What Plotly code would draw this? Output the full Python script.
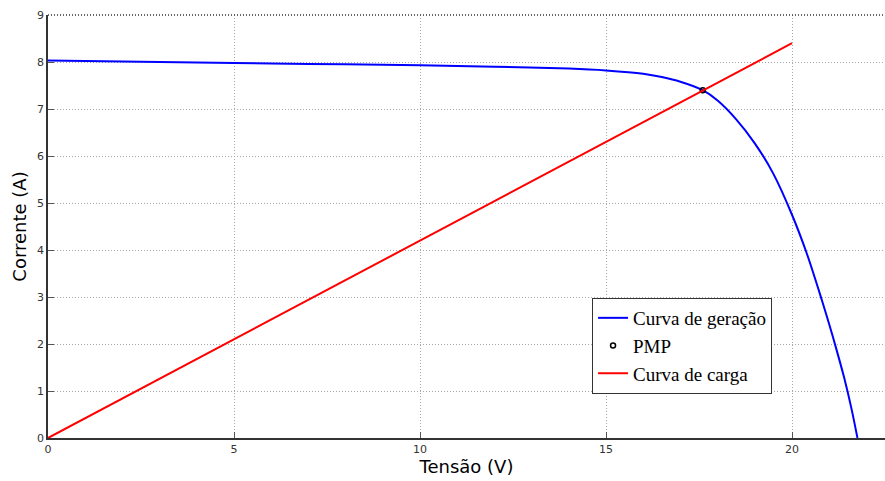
import plotly.graph_objects as go

# Generation (I-V) curve
v_ger = [0, 2, 4, 6, 8, 10, 12, 14, 15, 16, 16.5, 17, 17.6, 18, 18.5, 19, 19.5, 20, 20.4, 20.8, 21.0, 21.2, 21.4, 21.6, 21.76]
i_ger = [8.03, 8.01, 7.99, 7.97, 7.95, 7.93, 7.90, 7.86, 7.82, 7.75, 7.68, 7.58, 7.40, 7.18, 6.78, 6.27, 5.62, 4.75, 3.92, 2.94, 2.42, 1.87, 1.29, 0.62, 0.0]

# Load curve
v_carga = [0, 20]
i_carga = [0, 8.4]

# Maximum power point
v_pmp = [17.6]
i_pmp = [7.4]

x_ticks = [0, 5, 10, 15, 20]
y_ticks = [0, 1, 2, 3, 4, 5, 6, 7, 8, 9]

fig = go.Figure()
fig.add_trace(go.Scatter(x=v_ger, y=i_ger, mode="lines", name="Curva de geração",
                         line=dict(color="#0000ff", width=2, shape="spline", smoothing=0.8)))
fig.add_trace(go.Scatter(x=v_pmp, y=i_pmp, mode="markers", name="PMP",
                         marker=dict(symbol="circle-open", color="black", size=5, line=dict(width=1.5))))
fig.add_trace(go.Scatter(x=v_carga, y=i_carga, mode="lines", name="Curva de carga",
                         line=dict(color="#ff0000", width=2)))

axis_common = dict(
    showgrid=True, gridcolor="#a8a8a8", griddash="1px,2px", gridwidth=1,
    ticks="inside", ticklen=6, tickcolor="#555555",
    tickfont=dict(family="DejaVu Sans", size=11, color="#333333"),
    showline=True, linecolor="#333333", linewidth=1.5,
    zeroline=False,
)

fig.update_layout(
    width=885, height=481,
    margin=dict(l=48, r=0, t=15, b=43),
    paper_bgcolor="white", plot_bgcolor="white",
    showlegend=True,
    legend=dict(
        x=0.65, y=0.331, xanchor="left", yanchor="top",
        bordercolor="#333333", borderwidth=1, bgcolor="white",
        font=dict(family="Liberation Serif", size=19, color="black"),
        tracegroupgap=0, itemwidth=30,
    ),
    xaxis=dict(range=[0, 22.5], tickvals=x_ticks, **axis_common,
               title=dict(text="Tensão (V)", font=dict(family="DejaVu Sans", size=18, color="black"), standoff=4)),
    yaxis=dict(range=[0, 9], tickvals=y_ticks, **axis_common,
               title=dict(text="Corrente (A)", font=dict(family="DejaVu Sans", size=18, color="black"), standoff=6)),
)

# top border dotted
fig.add_shape(type="line", xref="paper", yref="paper", x0=0, x1=1, y0=1, y1=1,
              line=dict(color="#333333", width=1.5, dash="1px,2px"))

fig.write_html("out.html")
